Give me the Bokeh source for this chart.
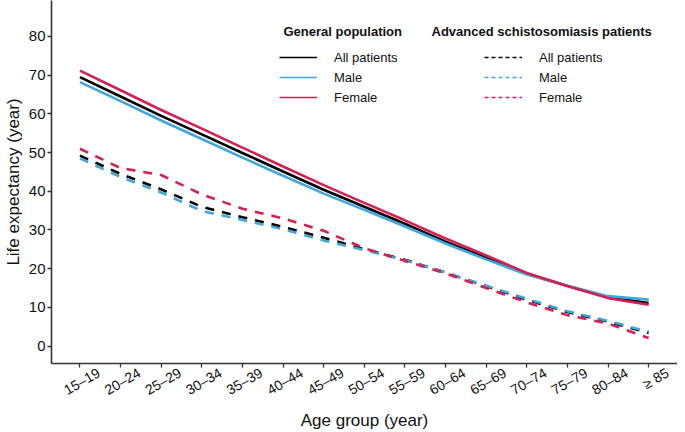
import numpy as np
from bokeh.plotting import figure
from bokeh.models import Range1d, FixedTicker, Legend, LegendItem, Label, LinearAxis
from bokeh.embed import file_html
from bokeh.resources import INLINE

age_groups = ["15\u201319", "20\u201324", "25\u201329", "30\u201334", "35\u201339", "40\u201344",
              "45\u201349", "50\u201354", "55\u201359", "60\u201364", "65\u201369", "70\u201374",
              "75\u201379", "80\u201384", "\u2265 85"]

gen_all = [69.5, 64.5, 59.5, 54.7, 49.9, 45.1, 40.4, 36.0, 31.6, 27.0, 22.8, 18.7, 15.5, 12.6, 11.1]
gen_male = [68.2, 63.3, 58.3, 53.5, 48.7, 44.0, 39.4, 35.2, 30.9, 26.5, 22.4, 18.5, 15.6, 12.9, 12.0]
gen_female = [71.2, 66.1, 61.0, 56.2, 51.3, 46.4, 41.6, 37.0, 32.5, 27.8, 23.4, 18.9, 15.5, 12.4, 10.7]

adv_all = [49.2, 44.5, 40.5, 36.0, 33.3, 30.8, 28.0, 25.0, 22.3, 19.0, 15.5, 12.0, 8.8, 6.3, 3.4]
adv_male = [48.5, 43.7, 39.7, 34.9, 32.6, 30.2, 27.3, 24.8, 22.2, 19.0, 15.6, 12.2, 9.0, 6.5, 3.7]
adv_female = [51.0, 46.0, 44.2, 39.2, 35.5, 33.0, 29.8, 25.3, 22.0, 18.8, 15.0, 11.3, 8.0, 5.8, 2.1]

y_ticks = [0, 10, 20, 30, 40, 50, 60, 70, 80]

BLACK = "#000000"
BLUE = "#3fa7dd"
RED = "#d42152"
FONT = "Liberation Sans"
TXT = "#111111"

x = list(range(len(age_groups)))
X0, X1 = -0.7, 14.71
LABEL_SHIFT = 0.463  # rotated labels are right-anchored; shift so they sit centred on ticks

p = figure(width=677, height=432, output_backend="svg", toolbar_location=None,
           x_range=Range1d(X0, X1), y_range=Range1d(-4.5, 89.3))
p.extra_x_ranges = {"lab": Range1d(X0 - LABEL_SHIFT, X1 - LABEL_SHIFT)}
p.min_border_left = 45
p.min_border_right = 0
p.min_border_top = 0
p.min_border_bottom = 69
p.outline_line_color = None
p.xgrid.visible = False
p.ygrid.visible = False

lw = 2.6
dash = "9 8"
p.line(x, gen_all, line_color=BLACK, line_width=lw)
p.line(x, gen_male, line_color=BLUE, line_width=lw)
p.line(x, gen_female, line_color=RED, line_width=lw)
p.line(x, adv_all, line_color=BLACK, line_width=lw, line_dash=dash)
p.line(x, adv_male, line_color=BLUE, line_width=lw, line_dash=dash)
p.line(x, adv_female, line_color=RED, line_width=lw, line_dash=dash)

# legend key proxies: not drawn in the plot (all-NaN y), only used for legend keys
nan_y = [float("nan")] * len(x)
lg_ga = p.line(x, nan_y, line_color=BLACK, line_width=1.6)
lg_gm = p.line(x, nan_y, line_color=BLUE, line_width=1.6)
lg_gf = p.line(x, nan_y, line_color=RED, line_width=1.6)
lg_aa = p.line(x, nan_y, line_color=BLACK, line_width=1.5, line_dash="4 3")
lg_am = p.line(x, nan_y, line_color=BLUE, line_width=1.5, line_dash="4 3")
lg_af = p.line(x, nan_y, line_color=RED, line_width=1.5, line_dash="4 3")

labels = ["All patients", "Male", "Female"]

def make_legend(rs, loc):
    lg = Legend(items=[LegendItem(label=l, renderers=[r]) for l, r in zip(labels, rs)],
                location=loc, orientation="vertical")
    lg.border_line_color = None
    lg.background_fill_alpha = 0
    lg.padding = 0
    lg.margin = 0
    lg.spacing = 0
    lg.label_height = 20
    lg.glyph_height = 20
    lg.glyph_width = 38
    lg.label_standoff = 17
    lg.label_text_font = FONT
    lg.label_text_font_size = "13px"
    lg.label_text_color = TXT
    return lg

p.add_layout(make_legend([lg_ga, lg_gm, lg_gf], (281 - 53, 363 - 107)), "center")
p.add_layout(make_legend([lg_aa, lg_am, lg_af], (486 - 53, 363 - 107)), "center")

for txt, sx in [("General population", 285 - 53), ("Advanced schistosomiasis patients", 433 - 53)]:
    p.add_layout(Label(x=sx, y=363 - 31, x_units="screen", y_units="screen", text=txt,
                       text_font=FONT, text_font_size="13px", text_font_style="bold",
                       text_baseline="middle", text_color=TXT))

# main x axis: line + ticks only
p.xaxis.ticker = FixedTicker(ticks=x)
p.xaxis.major_label_overrides = {i: "" for i in x}
p.xaxis.major_label_text_font_size = "0px"
p.xaxis.major_label_standoff = 0
p.yaxis.ticker = FixedTicker(ticks=y_ticks)

# label axis (shifted range so rotated labels are centred under ticks)
lab_ax = LinearAxis(x_range_name="lab", ticker=FixedTicker(ticks=x),
                    major_label_overrides={i: lab for i, lab in enumerate(age_groups)},
                    major_label_orientation=np.pi / 6, axis_line_color=None,
                    major_tick_line_color=None, minor_tick_line_color=None,
                    major_tick_in=0, major_tick_out=0,
                    major_label_text_font=FONT, major_label_text_font_size="14px",
                    major_label_text_color=TXT, major_label_standoff=4,
                    axis_label="Age group (year)", axis_label_text_font=FONT,
                    axis_label_text_font_style="normal", axis_label_text_font_size="17px",
                    axis_label_text_color=TXT, axis_label_standoff=3)
p.add_layout(lab_ax, "below")

for ax in (p.xaxis[0], p.yaxis[0]):
    ax.axis_line_color = "#333333"
    ax.axis_line_width = 1.6
    ax.major_tick_line_color = "#333333"
    ax.major_tick_line_width = 1.3
    ax.major_tick_in = 0
    ax.major_tick_out = 4
    ax.minor_tick_line_color = None
    ax.major_label_text_font = FONT
    ax.major_label_text_color = TXT
    ax.axis_label_text_font = FONT
    ax.axis_label_text_font_style = "normal"
    ax.axis_label_text_color = TXT
    ax.axis_label_text_font_size = "17px"

p.yaxis.major_label_text_font_size = "15px"
p.yaxis.axis_label = "Life expectancy (year)"
p.yaxis.major_label_standoff = 2
p.yaxis.axis_label_standoff = 3

open("out.html", "w").write(file_html(p, INLINE))
